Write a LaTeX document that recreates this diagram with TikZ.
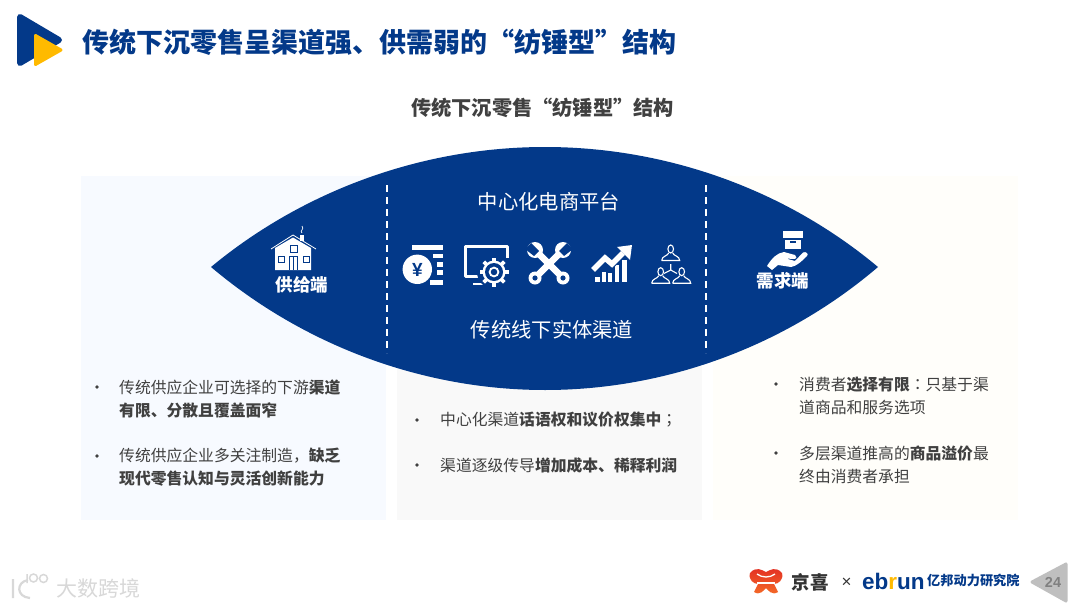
\documentclass[tikz,border=0pt]{standalone}
\usepackage{fontspec}
\setmainfont{Noto Sans CJK SC}
\newfontfamily\latinfont{Liberation Sans}
\newfontfamily\cjkpunct{Noto Sans CJK TC}
\usetikzlibrary{positioning, calc}
\definecolor{navy}{RGB}{3, 57, 137}
\definecolor{amber}{RGB}{255, 186, 0}
\definecolor{bodygrey}{RGB}{64, 64, 64}
\definecolor{panelL}{RGB}{247, 250, 255}
\definecolor{panelM}{RGB}{249, 249, 249}
\definecolor{panelR}{RGB}{255, 254, 250}
\definecolor{jxred}{RGB}{226, 44, 36}
\definecolor{jxorange}{RGB}{245, 110, 40}
\definecolor{wmgrey}{RGB}{216, 216, 216}
\tikzset{
  panel/.style={anchor=north west, inner sep=0pt, minimum width=305pt},
  lens/.style={fill=navy},
  sep/.style={draw=white, line width=1.5pt, dash pattern=on 7pt off 5pt},
  bullet/.style={circle, fill=bodygrey, inner sep=0pt, minimum size=3.6pt},
  body/.style={anchor=west, align=left, inner sep=0pt, text=bodygrey,
    font=\fontsize{15.8}{23}\selectfont},
  chan/.style={text=white, inner sep=0pt, font=\fontsize{20.3}{24}\selectfont},
  endlbl/.style={text=white, inner sep=0pt, font=\fontsize{17.5}{20}\selectfont\bfseries},
  ico/.style={fill=white, draw=none},
  cut/.style={fill=navy, draw=none},
  thin ico/.style={draw=white, line width=1.1pt},
}
\newcommand{\wrench}[4]{% ring end, jaw end
  \draw[white, line width=6.5pt] (#1,#2) -- (#3,#4);
  \fill[white] (#1,#2) circle (6.5pt);
  \fill[navy] (#1,#2) circle (2.6pt);
  \fill[white] (#3,#4) circle (8pt);
}
\begin{document}
\begin{tikzpicture}[x=1pt, y=-1pt]
\useasboundingbox (0,0) rectangle (1080,608);
\fill[white] (0,0) rectangle (1080,608);

% header
\fill[navy, draw=navy, line width=6pt, line join=round] (20,17) -- (59,40) -- (20,63) -- cycle;
\fill[amber, draw=amber, line width=3pt, line join=round] (35.5,35.5) -- (61,50) -- (35.5,64.5) -- cycle;
\node[anchor=west, inner sep=0pt, text=navy, font=\fontsize{27}{30}\selectfont\bfseries] (title) at (82,42)
  {传统下沉零售呈渠道强、供需弱的“纺锤型”结构};
\node[inner sep=0pt, text=bodygrey, font=\fontsize{20.2}{24}\selectfont\bfseries] (subtitle) at (542.5,108)
  {传统下沉零售“纺锤型”结构};

% panels
\node[panel, fill=panelL, minimum height=344pt] (pL) at (81,176) {};
\node[panel, fill=panelM, minimum height=160pt] (pM) at (397,360) {};
\node[panel, fill=panelR, minimum height=344pt] (pR) at (713,176) {};

% spindle
\fill[lens] (211,267) .. controls (304.5,189.6) and (423.6,147) .. (545,147)
  .. controls (666.4,147) and (785.5,189.6) .. (878,267)
  .. controls (785.5,346) and (666.4,390) .. (545,390)
  .. controls (423.6,390) and (304.5,346) .. (211,267) -- cycle;

\coordinate (s1a) at (387,185);
\coordinate (s1b) at (387,353);
\coordinate (s2a) at (706,185);
\coordinate (s2b) at (706,353);
\draw[sep] (s1a) -- (s1b);
\draw[sep] (s2a) -- (s2b);

\node[chan] (platform) at (549,202) {中心化电商平台};
\node[chan] (offline) at (552,330) {传统线下实体渠道};
\node[endlbl] (supply) at (302,285) {供给端};
\node[endlbl] (demand) at (783,281) {需求端};

% house
\draw[white, line width=0.8pt] (271,249) -- (293,235) -- (316,249);
\fill[ico] (275,270) -- (275,248) -- (293,237.5) -- (311,248) -- (311,270) -- cycle;
\fill[ico] (300,235) rectangle (304,241);
\draw[white, line width=0.7pt] (302,233) .. controls (299,231) and (305,229) .. (302,226);
\draw[navy, line width=0.9pt] (278,256) rectangle (284,262);
\draw[navy, line width=0.9pt] (303,256) rectangle (309,262);
\draw[navy, line width=0.9pt] (290,245) rectangle (297,252);
\draw[navy, line width=0.9pt] (289,270) -- (289,256) -- (297,256) -- (297,270) (293,256) -- (293,270);

% coin
\fill[ico] (412,245) rectangle (443,249.5);
\fill[ico] (433,253.5) rectangle (443,258);
\fill[ico] (437,262) rectangle (443,266.5);
\fill[ico] (437,270) rectangle (443,275);
\fill[ico] (430,280) rectangle (443,285);
\fill[cut] (417.3,269.3) circle (16.2pt);
\fill[ico] (417.3,269.3) circle (14.7pt);
\node[inner sep=0pt, text=navy, font=\latinfont\fontsize{19}{20}\selectfont\bfseries] (yen) at (417.3,269.5) {¥};

% monitor and gear
\draw[white, line width=3pt, line join=round] (507,258) -- (507,246.5) -- (465,246.5) -- (465,276) -- (483,276);
\draw[white, line width=2pt] (473,284) -- (483,284);
\fill[cut] (494,272) circle (17pt);
\foreach \a in {0,45,...,315}
  \draw[white, line width=3.6pt] ($(494,272)+(\a:9pt)$) -- ($(494,272)+(\a:14.5pt)$);
\fill[ico] (494,272) circle (11.5pt);
\fill[cut] (494,272) circle (9pt);
\draw[white, line width=1.8pt] (494,272) circle (4.4pt);

% tools
\wrench{535}{278}{563}{250}
\fill[cut] (567,243) -- (573,249) -- (564,256) -- (559,251) -- cycle;
\wrench{563}{278}{535}{250}
\fill[cut] (531,243) -- (525,249) -- (534,256) -- (539,251) -- cycle;

% growth chart
\foreach \bx/\by/\bw in {595/277/4.5, 601.5/272/4, 608/273/4, 615/265/4, 622/260/4.5}
  \fill[ico] (\bx,\by) rectangle (\bx+\bw,282);
\draw[navy, line width=7.5pt, line join=miter] (593,270) -- (605,258) -- (612,264) -- (623,253);
\draw[white, line width=5.5pt, line join=miter] (593,270) -- (605,258) -- (612,264) -- (623,253);
\fill[ico] (617,247) -- (632,245) -- (630,260) -- cycle;

% people
\foreach \px/\py in {670.7/249, 660.7/271.7, 681.7/271.7}{
  \draw[thin ico] (\px,\py) ellipse (2.8pt and 4pt);
  \draw[thin ico] ($(\px,\py)+(-9,11.5)$) .. controls ($(\px,\py)+(-9,7)$) and ($(\px,\py)+(-3,7)$) .. ($(\px,\py)+(-2,4)$)
    ($(\px,\py)+(2,4)$) .. controls ($(\px,\py)+(3,7)$) and ($(\px,\py)+(9,7)$) .. ($(\px,\py)+(9,11.5)$) -- ($(\px,\py)+(-9,11.5)$);
}
\draw[thin ico] (670.7,264) -- (670.7,270) -- (664,273.5) (670.7,270) -- (677,273.5);

% box on hand
\fill[ico] (783,231) rectangle (803,238);
\fill[ico] (785,239.5) rectangle (801,249);
\fill[cut] (790,241) rectangle (796,242.5);
\fill[ico] (767,266) .. controls (772,258) and (777,253) .. (784,252)
  -- (795,255) .. controls (797,256) and (797,259) .. (794,259) -- (786,258.5)
  -- (795,261) -- (803,252.5) .. controls (806,251) and (809,254) .. (807,256)
  .. controls (802,261) and (797,266) .. (791,267) -- (778,265) -- (772,270) -- cycle;

% left column
\node[bullet] (bl1) at (97,387) {};
\node[body] (tl1) at (119,398.5) {传统供应企业可选择的下游\textbf{渠道}\\\textbf{有限、分散且覆盖面窄}};
\node[bullet] (bl2) at (97,456) {};
\node[body] (tl2) at (119,467.5) {传统供应企业多关注制造，\textbf{缺乏}\\\textbf{现代零售认知与灵活创新能力}};

% middle column
\node[bullet] (bm1) at (417,420) {};
\node[body] (tm1) at (440,420) {中心化渠道\textbf{话语权和议价权集中}{\cjkpunct ；}};
\node[bullet] (bm2) at (417,465) {};
\node[body] (tm2) at (440,465) {渠道逐级传导\textbf{增加成本、稀释利润}};

% right column
\node[bullet] (br1) at (776,384) {};
\node[body] (tr1) at (799,395.5) {消费者\textbf{选择有限}{\cjkpunct ：}只基于渠\\道商品和服务选项};
\node[bullet] (br2) at (776,453) {};
\node[body] (tr2) at (799,464.5) {多层渠道推高的\textbf{商品溢价}最\\终由消费者承担};

% footer logos
\path[top color=jxred, bottom color=jxorange] (750,573) .. controls (756,566) and (762,570) .. (766,572)
  .. controls (770,570) and (776,566) .. (782,573)
  .. controls (784,580) and (778,584) .. (774,584) -- (778,592)
  .. controls (772,596) and (768,590) .. (766,588)
  .. controls (764,590) and (760,596) .. (754,592) -- (758,584)
  .. controls (754,584) and (748,580) .. (750,573) -- cycle;
\draw[white, line width=1.3pt] (757,574) .. controls (762,578) and (770,578) .. (775,574);
\draw[white, line width=1.3pt] (757,583) -- (775,583);
\node[inner sep=0pt, text=black!80, font=\fontsize{18.5}{20}\selectfont\bfseries] (jx) at (810,582.5) {京喜};
\node[inner sep=0pt, text=black!80, font=\latinfont\fontsize{17}{18}\selectfont] (times) at (846.5,583) {×};
\node[anchor=west, inner sep=0pt, text=navy, font=\latinfont\fontsize{22.5}{24}\selectfont\bfseries] (ebrun) at (862,581)
  {eb\textcolor{amber}{r}un};
\node[anchor=west, inner sep=0pt, text=navy, font=\fontsize{13.2}{15}\selectfont\bfseries] (ebrunlab) at (927,580) {亿邦动力研究院};
\fill[black!25, draw=black!25, line width=3pt, line join=round] (1032,582) -- (1066,564) -- (1066,601) -- cycle;
\node[inner sep=0pt, text=black!50, font=\latinfont\fontsize{14.5}{16}\selectfont\bfseries] (page) at (1053,582) {24};

% watermark
\draw[wmgrey, line width=2.2pt] (13,579) -- (13,598) (28,580) .. controls (16,582) and (16,597) .. (30,598);
\draw[wmgrey, line width=1.5pt] (27,574) -- (27,583) (33.5,578) circle (4pt) (43.5,578.5) circle (4pt);
\node[anchor=west, inner sep=0pt, text=wmgrey, font=\fontsize{21}{24}\selectfont] (wm) at (56,588) {大数跨境};
\end{tikzpicture}
\end{document}
